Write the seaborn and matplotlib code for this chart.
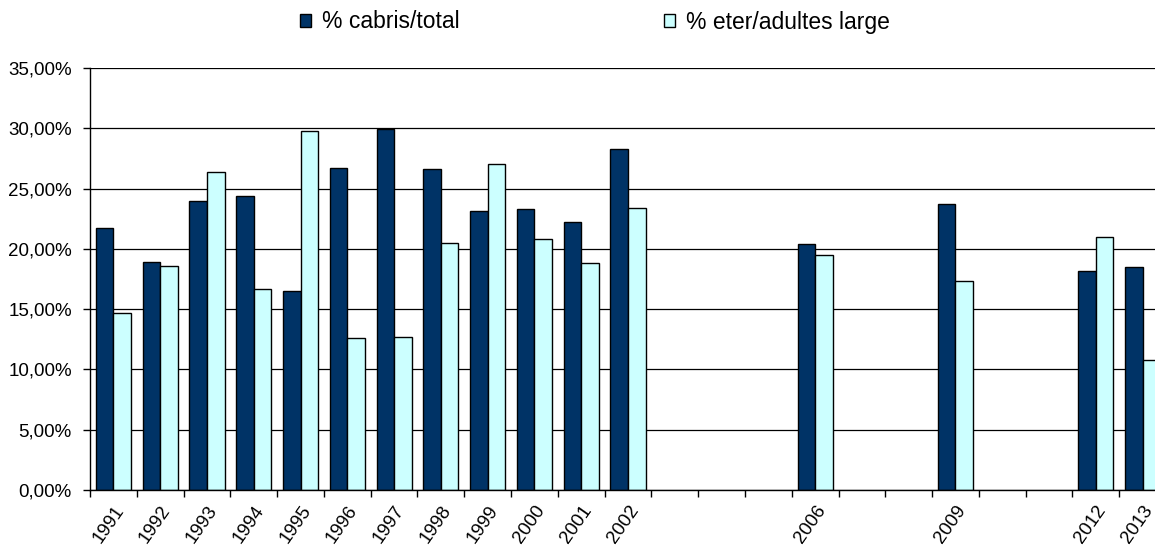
import numpy as np
import pandas as pd
import matplotlib
matplotlib.use('Agg')
import matplotlib.pyplot as plt
import seaborn as sns
from matplotlib.ticker import FuncFormatter

# values (percent)
years = [1991, 1992, 1993, 1994, 1995, 1996, 1997, 1998, 1999, 2000, 2001, 2002,
         2006, 2009, 2012, 2013]
cabris_total = [21.7, 18.9, 24.0, 24.4, 16.5, 26.7, 29.9, 26.6, 23.1, 23.3, 22.2, 28.3,
                20.4, 23.7, 18.2, 18.5]
eter_adultes = [14.7, 18.6, 26.4, 16.7, 29.8, 12.6, 12.7, 20.5, 27.0, 20.8, 18.8, 23.4,
                19.5, 17.3, 21.0, 10.8]
series_names = ['% cabris/total', '% eter/adultes large']
series_colors = ['#003366', '#CCFFFF']
all_years = [str(y) for y in range(1991, 2014)]

df = pd.DataFrame({
    'year': [str(y) for y in years] * 2,
    'value': cabris_total + eter_adultes,
    'serie': [series_names[0]] * len(years) + [series_names[1]] * len(years),
})

sns.set_style('white')
plt.rcParams['font.family'] = ['Liberation Sans', 'DejaVu Sans']
plt.rcParams['text.color'] = 'black'
plt.rcParams['xtick.color'] = 'black'
plt.rcParams['ytick.color'] = 'black'

fig = plt.figure(figsize=(11.55, 5.5), dpi=100)
ax = fig.add_axes([90 / 1155, 60 / 550, 1076 / 1155, 422 / 550])

sns.barplot(data=df, x='year', y='value', hue='serie', order=all_years,
            hue_order=series_names, palette=series_colors, width=0.75,
            edgecolor='black', linewidth=1, saturation=1, errorbar=None, ax=ax)

ax.set_ylim(0, 35)
ax.set_xlim(-0.5, len(all_years) - 0.5)
ax.set_yticks(np.arange(0, 36, 5))
ax.yaxis.set_major_formatter(FuncFormatter(lambda v, p: f'{v:.2f}'.replace('.', ',') + '%'))
ax.grid(axis='y', color='black', linewidth=0.9)
ax.set_axisbelow(True)

# ticks on category boundaries, labels only for years with data
ax.set_xticks(np.arange(len(all_years) + 1) - 0.5, labels=[''] * (len(all_years) + 1))
shown = [y if int(y) in years else '' for y in all_years]
ax.set_xticks(np.arange(len(all_years)), labels=shown, minor=True)
ax.tick_params(axis='x', which='major', length=5, color='black', width=1, direction='out', bottom=True)
ax.tick_params(axis='x', which='minor', length=0, labelsize=13.5, pad=9)
ax.tick_params(axis='y', length=5, color='black', width=1, direction='out', left=True,
               labelsize=13.5, pad=8)
for lab in ax.get_xticklabels(minor=True):
    lab.set_rotation(55)
    lab.set_ha('right')
    lab.set_rotation_mode('anchor')

for s in ['top', 'right']:
    ax.spines[s].set_visible(False)
for s in ['left', 'bottom']:
    ax.spines[s].set_color('black')
    ax.spines[s].set_linewidth(1)
ax.set_xlabel('')
ax.set_ylabel('')

handles, labels = ax.get_legend_handles_labels()
ax.legend_.remove()
fig.legend(handles, labels, loc='center', bbox_to_anchor=(595 / 1155, 1 - 22 / 550),
           ncol=2, frameon=False, fontsize=16.5, handlelength=0.48, handleheight=0.48,
           handletextpad=0.5, columnspacing=8.9)

fig.savefig('out.png', dpi=100)
